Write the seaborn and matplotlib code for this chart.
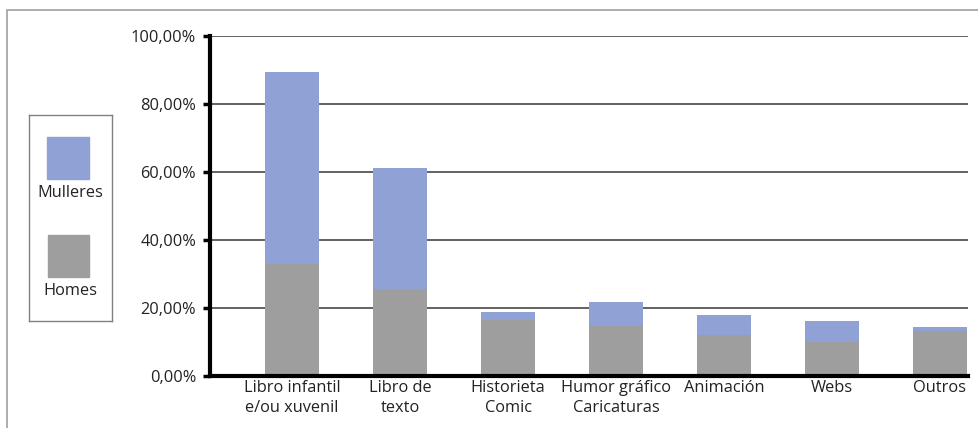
import matplotlib.pyplot as plt
from matplotlib.patches import Rectangle
import pandas as pd
import seaborn as sns

# datos (porcentaxes)
categorias = ['Libro infantil\ne/ou xuvenil', 'Libro de\ntexto', 'Historieta\nComic',
              'Humor gráfico\nCaricaturas', 'Animación', 'Webs', 'Outros']
homes = [33.0, 25.6, 16.5, 14.8, 12.1, 10.1, 13.1]
mulleres = [56.4, 35.6, 2.3, 7.0, 5.9, 6.1, 1.3]
ticks_y = [0, 20, 40, 60, 80, 100]

cor_mulleres = '#8fa1d5'
cor_homes = '#9d9e9d'

df = pd.DataFrame({'Categoria': categorias, 'Homes': homes, 'Mulleres': mulleres})
df['Total'] = df['Homes'] + df['Mulleres']

sns.set_theme(style='white')
plt.rcParams['font.family'] = ['Open Sans', 'DejaVu Sans']
plt.rcParams['text.color'] = '#222222'
fs = 11.8

fig = plt.figure(figsize=(9.79, 4.28), dpi=100)
ax = fig.add_axes([0.2145, 0.1215, 0.9888 - 0.2145, 0.9159 - 0.1215])

# barras apiladas: total (mulleres) por detras, homes por diante
sns.barplot(data=df, x='Categoria', y='Total', color=cor_mulleres, width=0.5,
            saturation=1, linewidth=0, ax=ax, zorder=2)
sns.barplot(data=df, x='Categoria', y='Homes', color=cor_homes, width=0.5,
            saturation=1, linewidth=0, ax=ax, zorder=3)

ax.set_xlim(-0.76, 6.26)
ax.set_ylim(0, 100)
ax.set_yticks(ticks_y)
ax.set_yticklabels([f'{v:.2f}%'.replace('.', ',') for v in ticks_y], fontsize=fs, color='#222222')
ax.tick_params(axis='x', labelsize=fs, colors='#222222', length=0, pad=3)
ax.tick_params(axis='y', left=True, length=5, width=2.5, color='black', pad=5)
for t in ax.get_xticklabels():
    t.set_linespacing(1.3)
ax.set_xlabel('')
ax.set_ylabel('')

ax.yaxis.grid(True, color='#555555', linewidth=1.3)
ax.set_axisbelow(True)
for lado in ['top', 'right']:
    ax.spines[lado].set_visible(False)
for lado in ['left', 'bottom']:
    ax.spines[lado].set_color('black')
    ax.spines[lado].set_linewidth(3)
    ax.spines[lado].set_zorder(5)

# marco exterior
fig.patches.append(Rectangle((7 / 979, -0.1), 1.2, (428 - 10) / 428 + 0.1,
                             transform=fig.transFigure, fill=False,
                             edgecolor='#a0a0a0', linewidth=1.2))

# lenda: cadro enriba, texto debaixo
leg = fig.add_axes([29 / 979, (428 - 321) / 428, 83 / 979, 206 / 428])
leg.set_xlim(0, 83)
leg.set_ylim(206, 0)
leg.set_xticks([])
leg.set_yticks([])
for s in leg.spines.values():
    s.set_color('#808080')
    s.set_linewidth(1)
leg.add_patch(Rectangle((18, 22), 42, 42, color=cor_mulleres))
leg.text(41.5, 78, 'Mulleres', ha='center', va='center', fontsize=fs)
leg.add_patch(Rectangle((19, 120), 41, 42, color=cor_homes))
leg.text(41.5, 176, 'Homes', ha='center', va='center', fontsize=fs)

fig.savefig('out.png', dpi=100)
